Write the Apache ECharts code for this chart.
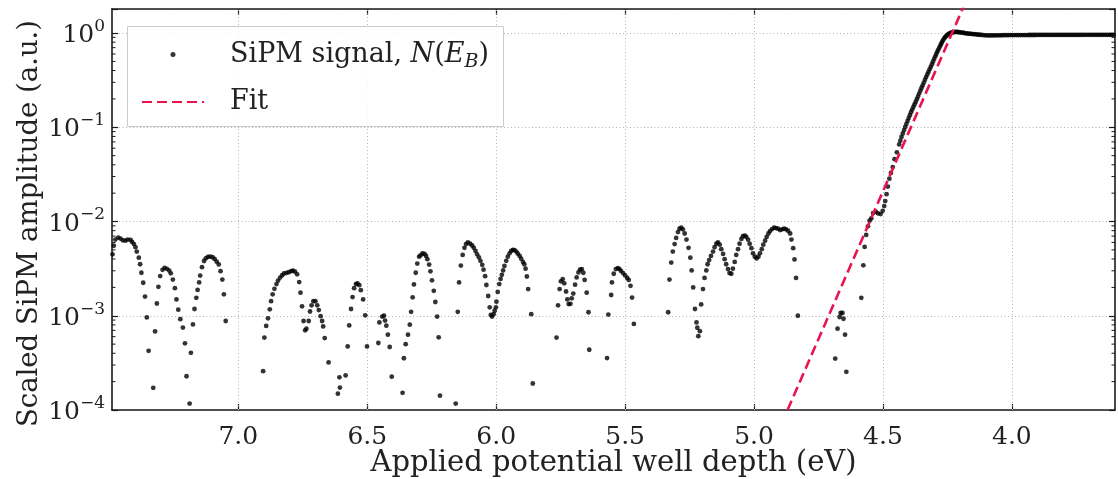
<!DOCTYPE html>
<html><head><meta charset="utf-8">
<script src="https://cdn.jsdelivr.net/npm/echarts@6/dist/echarts.min.js"></script>
<style>html,body{margin:0;padding:0;background:#fff}#c{width:1118px;height:479px}</style>
</head><body><div id="c"></div>
<script>
// ---- axis ranges and tick values ----
const xRange = [3.6, 7.49];
const yRange = [1e-4, 1.8];
const xTickValues = [7.0, 6.5, 6.0, 5.5, 5.0, 4.5, 4.0];
const yMinorTickValues = [2e-4,3e-4,4e-4,5e-4,6e-4,7e-4,8e-4,9e-4,
  2e-3,3e-3,4e-3,5e-3,6e-3,7e-3,8e-3,9e-3,
  2e-2,3e-2,4e-2,5e-2,6e-2,7e-2,8e-2,9e-2,
  0.2,0.3,0.4,0.5,0.6,0.7,0.8,0.9];

// ---- SiPM signal N(E_B): [well depth eV, scaled amplitude] ----
const signalOscillation = [
[7.488,4.49e-3],[7.483,5.53e-3],[7.477,6.43e-3],[7.466,6.76e-3],[7.457,6.59e-3],[7.448,6.32e-3],[7.438,6.27e-3],[7.429,6.43e-3],[7.418,6.37e-3],[7.412,6.07e-3],[7.405,5.77e-3],[7.399,5.35e-3],[7.394,4.80e-3],[7.386,4.13e-3],[7.381,3.52e-3],[7.376,2.86e-3],[7.369,2.24e-3],[7.362,1.60e-3],[7.355,9.6e-4],[7.348,4.25e-4],[7.330,1.72e-4],
[7.323,6.82e-4],[7.316,1.35e-3],[7.310,2.03e-3],[7.303,2.64e-3],[7.294,3.07e-3],[7.286,3.23e-3],[7.277,3.15e-3],[7.268,3.02e-3],[7.262,2.82e-3],[7.254,2.42e-3],[7.246,1.96e-3],[7.240,1.49e-3],[7.233,1.16e-3],[7.225,9.2e-4],[7.215,7.5e-4],[7.207,5.1e-4],[7.201,2.28e-4],[7.189,1.17e-4],
[7.184,4.04e-4],[7.176,8.1e-4],[7.170,1.18e-3],[7.163,1.55e-3],[7.158,1.88e-3],[7.152,2.26e-3],[7.148,2.67e-3],[7.141,3.28e-3],[7.133,3.81e-3],[7.126,4.07e-3],[7.118,4.22e-3],[7.109,4.25e-3],[7.100,4.18e-3],[7.092,4.01e-3],[7.084,3.75e-3],[7.076,3.51e-3],[7.069,2.97e-3],[7.062,2.42e-3],[7.056,1.69e-3],[7.049,8.8e-4],
[6.904,2.58e-4],[6.899,5.87e-4],[6.892,7.8e-4],[6.885,9.4e-4],[6.878,1.17e-3],[6.873,1.43e-3],[6.867,1.69e-3],[6.860,1.93e-3],[6.852,2.17e-3],[6.846,2.36e-3],[6.838,2.54e-3],[6.830,2.69e-3],[6.823,2.81e-3],[6.813,2.85e-3],[6.804,2.90e-3],[6.795,2.97e-3],[6.788,3.02e-3],[6.780,2.94e-3],[6.772,2.75e-3],[6.764,2.28e-3],[6.759,1.76e-3],[6.753,1.26e-3],[6.747,8.8e-4],[6.741,7.0e-4],[6.736,7.3e-4],[6.727,8.8e-4],[6.722,1.11e-3],[6.716,1.29e-3],[6.709,1.43e-3],[6.701,1.43e-3],[6.694,1.29e-3],[6.688,1.15e-3],[6.681,9.9e-4],[6.675,8.8e-4],[6.671,7.7e-4],[6.665,5.8e-4],[6.650,3.2e-4],
[6.614,1.49e-4],[6.608,2.22e-4],[6.606,1.73e-4],[6.584,2.33e-4],
[6.576,4.73e-4],[6.570,7.9e-4],[6.563,1.18e-3],[6.557,1.58e-3],[6.551,1.96e-3],[6.544,2.17e-3],[6.538,2.20e-3],[6.531,2.11e-3],[6.525,1.87e-3],[6.516,1.49e-3],[6.508,1.01e-3],[6.501,4.73e-4],
[6.457,5.14e-4],[6.453,8.5e-4],[6.442,9.8e-4],[6.435,1.0e-3],[6.431,8.9e-4],[6.426,7.85e-4],[6.420,6.3e-4],[6.413,4.66e-4],[6.405,2.26e-4],
[6.363,1.52e-4],[6.358,3.54e-4],[6.351,5.0e-4],[6.342,6.3e-4],[6.335,8.05e-4],[6.330,1.10e-3],[6.324,1.57e-3],[6.319,2.15e-3],[6.312,2.86e-3],[6.306,3.58e-3],[6.299,4.24e-3],[6.293,4.38e-3],[6.286,4.60e-3],[6.278,4.53e-3],[6.272,4.31e-3],[6.267,3.99e-3],[6.260,3.49e-3],[6.255,2.96e-3],[6.249,2.38e-3],[6.242,1.84e-3],[6.236,1.40e-3],[6.229,9.8e-4],[6.223,5.9e-4],[6.218,1.42e-4],
[6.157,1.17e-4],
[6.149,1.10e-3],[6.144,2.26e-3],[6.137,3.41e-3],[6.130,4.42e-3],[6.123,5.26e-3],[6.117,5.77e-3],[6.110,6.01e-3],[6.101,5.81e-3],[6.093,5.57e-3],[6.087,5.26e-3],[6.080,4.88e-3],[6.074,4.49e-3],[6.067,4.17e-3],[6.061,3.83e-3],[6.054,3.47e-3],[6.049,3.08e-3],[6.043,2.63e-3],[6.038,2.12e-3],[6.031,1.62e-3],[6.025,1.23e-3],[6.021,1.02e-3],[6.016,9.8e-4],[6.010,1.04e-3],[6.006,1.13e-3],[6.001,1.23e-3],[5.999,1.41e-3],[5.994,1.79e-3],[5.988,2.17e-3],[5.983,2.46e-3],[5.978,2.72e-3],[5.973,3.03e-3],[5.968,3.38e-3],[5.961,3.83e-3],[5.955,4.24e-3],[5.948,4.60e-3],[5.942,4.88e-3],[5.935,5.00e-3],[5.929,4.97e-3],[5.922,4.80e-3],[5.916,4.56e-3],[5.909,4.31e-3],[5.903,4.03e-3],[5.896,3.73e-3],[5.891,3.52e-3],[5.886,3.16e-3],[5.881,2.61e-3],[5.876,1.92e-3],[5.864,1.04e-3],[5.858,1.91e-4],
[5.766,5.87e-4],[5.760,1.29e-3],[5.754,1.92e-3],[5.749,2.32e-3],[5.742,2.44e-3],[5.736,2.21e-3],[5.729,1.81e-3],[5.724,1.49e-3],[5.719,1.33e-3],[5.712,1.34e-3],[5.707,1.53e-3],[5.701,1.72e-3],[5.694,2.14e-3],[5.688,2.55e-3],[5.681,2.88e-3],[5.675,3.08e-3],[5.668,3.13e-3],[5.662,2.86e-3],[5.657,2.40e-3],[5.649,1.76e-3],[5.642,1.09e-3],[5.639,4.36e-4],
[5.570,3.56e-4],[5.565,1.03e-3],[5.554,1.66e-3],[5.551,2.26e-3],[5.544,2.79e-3],[5.536,3.13e-3],[5.528,3.21e-3],[5.522,3.13e-3],[5.516,2.99e-3],[5.508,2.84e-3],[5.500,2.68e-3],[5.492,2.52e-3],[5.486,2.40e-3],[5.479,2.08e-3],[5.473,1.56e-3],[5.466,8.2e-4],
[5.333,1.09e-3],[5.328,2.42e-3],[5.321,3.67e-3],[5.315,4.80e-3],[5.308,5.77e-3],[5.302,6.70e-3],[5.295,7.73e-3],[5.289,8.39e-3],[5.282,8.61e-3],[5.276,8.26e-3],[5.269,7.46e-3],[5.262,6.43e-3],[5.254,5.26e-3],[5.247,4.13e-3],[5.242,3.03e-3],[5.236,2.00e-3],[5.229,1.18e-3],[5.223,8.5e-4],[5.220,7.46e-4],[5.216,6.07e-4],[5.210,6.87e-4],[5.205,1.32e-3],[5.198,1.92e-3],[5.192,2.52e-3],[5.185,3.03e-3],[5.180,3.52e-3],[5.174,3.90e-3],[5.167,4.31e-3],[5.159,4.80e-3],[5.153,5.35e-3],[5.146,5.81e-3],[5.140,6.01e-3],[5.133,5.68e-3],[5.127,5.09e-3],[5.120,4.53e-3],[5.114,3.99e-3],[5.108,3.52e-3],[5.101,3.13e-3],[5.095,2.84e-3],[5.088,2.79e-3],[5.082,3.16e-3],[5.075,3.73e-3],[5.069,4.42e-3],[5.062,5.09e-3],[5.056,5.81e-3],[5.049,6.53e-3],[5.043,6.98e-3],[5.036,7.10e-3],[5.030,6.87e-3],[5.023,6.43e-3],[5.017,5.81e-3],[5.010,5.21e-3],[5.004,4.60e-3],[4.997,4.24e-3],[4.990,4.06e-3],[4.983,4.24e-3],[4.977,4.60e-3],[4.970,5.09e-3],[4.964,5.68e-3],[4.957,6.27e-3],[4.951,6.87e-3],[4.944,7.46e-3],[4.938,7.92e-3],[4.930,8.32e-3],[4.922,8.61e-3],[4.915,8.53e-3],[4.907,8.39e-3],[4.899,8.11e-3],[4.891,8.26e-3],[4.883,8.39e-3],[4.876,8.26e-3],[4.868,7.98e-3],[4.860,7.46e-3],[4.855,6.43e-3],[4.848,5.21e-3],[4.843,3.96e-3],[4.837,2.52e-3],[4.830,1.0e-3],
[4.685,3.51e-4],[4.676,7.3e-4],[4.668,9.7e-4],[4.664,1.07e-3],[4.657,1.07e-3],[4.653,9.3e-4],[4.647,6.3e-4],[4.642,2.54e-4]
];
const signalRise = [
[4.584,1.55e-3],[4.576,3.43e-3],[4.571,5.38e-3],[4.565,7.21e-3],[4.558,8.89e-3],[4.552,1.02e-2],[4.545,1.08e-2],[4.538,1.23e-2],[4.528,1.27e-2],[4.519,1.22e-2],[4.509,1.20e-2],[4.501,1.30e-2],[4.495,1.46e-2],[4.491,1.65e-2],[4.486,1.95e-2],[4.481,2.35e-2],[4.475,2.85e-2],[4.469,3.28e-2],[4.462,3.78e-2],[4.455,4.59e-2],[4.446,5.43e-2],[4.437,6.58e-2],
[4.4325,7.21e-2],[4.428,7.91e-2],[4.423,8.59e-2],[4.418,9.35e-2],[4.4135,0.1009],[4.409,0.1086],[4.4045,0.1167],[4.400,0.1253],[4.3955,0.1346],[4.391,0.1445],[4.3865,0.1542],[4.382,0.1641],[4.3775,0.1746],[4.373,0.1858],[4.3685,0.1986],[4.364,0.2123],[4.3595,0.2280],[4.355,0.2449],[4.3505,0.2612],[4.346,0.2780],[4.3415,0.2985],[4.337,0.3199],[4.3325,0.3412],[4.328,0.3631],[4.3235,0.3873],[4.319,0.4121],[4.3145,0.4385],[4.310,0.4667],[4.3055,0.4989],[4.301,0.5333],[4.297,0.5662],[4.293,0.5998],[4.289,0.6339],[4.285,0.6683],[4.281,0.7047],[4.277,0.7396],[4.2735,0.7745],[4.270,0.8110],[4.266,0.8472],[4.262,0.8810],[4.258,0.9099],[4.254,0.9354],[4.250,0.9572],[4.246,0.9750],[4.2425,0.9886],[4.239,1.000],[4.235,1.009],[4.231,1.016],[4.227,1.021],[4.222,1.026],
[4.216,1.027],[4.211,1.026],[4.206,1.022],[4.201,1.016],[4.195,1.012],[4.189,1.008],[4.183,1.000],[4.177,0.992],[4.171,0.988],[4.164,0.984],[4.158,0.979],[4.151,0.975],[4.145,0.972],[4.138,0.968],[4.132,0.964],[4.125,0.960]
];
const signalPlateau = [
[4.118,0.955],[4.110,0.950],[4.102,0.946],[4.094,0.944],[4.086,0.943],[4.078,0.943],[4.070,0.944],[4.062,0.945],[4.054,0.946],[4.046,0.947],[4.038,0.948],[4.030,0.949],[4.022,0.950],[4.014,0.950],[4.006,0.951],[3.998,0.951],[3.990,0.952],[3.982,0.952],[3.974,0.952],[3.966,0.953],[3.958,0.953],[3.950,0.953],[3.942,0.953],[3.934,0.954],[3.926,0.954],[3.918,0.954],[3.910,0.954],[3.902,0.955],[3.894,0.955],[3.886,0.955],[3.878,0.955],[3.870,0.955],[3.862,0.955],[3.854,0.955],[3.846,0.955],[3.838,0.956],[3.830,0.956],[3.822,0.956],[3.814,0.956],[3.806,0.956],[3.798,0.956],[3.790,0.956],[3.782,0.956],[3.774,0.956],[3.766,0.956],[3.758,0.956],[3.750,0.956],[3.742,0.956],[3.734,0.956],[3.726,0.957],[3.718,0.957],[3.710,0.957],[3.702,0.957],[3.694,0.957],[3.686,0.957],[3.678,0.957],[3.670,0.957],[3.662,0.957],[3.654,0.957],[3.646,0.957],[3.638,0.957],[3.630,0.957],[3.622,0.957],[3.614,0.957],[3.606,0.957]
];
// ---- exponential fit (straight on log scale): endpoints ----
const fitLine = [[4.870, 1e-4], [4.150, 3.27]];

// ---- styling ----
const FONT = 'DejaVu Serif';
const INK = '#1a1a1a';
const GRIDC = '#b3b3b3';
const FITC = '#e8134f';

function yLabel(v) {
  const lg = Math.log10(v);
  const e = Math.round(lg);
  if (Math.abs(lg - e) > 1e-6) return '';
  const s = e < 0 ? '\u2212' + (-e) : String(e);
  return '{b|10}{s|' + s + '}';
}

const chart = echarts.init(document.getElementById('c'), null, {renderer: 'canvas'});
const axisLineStyle = {color: INK, width: 1.6};
chart.setOption({
  animation: false,
  backgroundColor: '#fff',
  textStyle: {fontFamily: FONT},
  grid: {left: 112, top: 9, width: 1003, height: 401, containLabel: false, outerBoundsMode: 'none'},
  legend: {
    data: ['SiPM signal', {name: 'Fit', itemStyle: {opacity: 0}}],
    orient: 'vertical', left: 136, top: 36, padding: 5,
    itemWidth: 62, itemHeight: 5, itemGap: 17,
    z: 20, selectedMode: false,
    formatter: function (name) {
      return name === 'Fit' ? '{r0|Fit}' : '{r0|SiPM signal, }{i|N}{r|(}{i|E}{sub|B}{r|)}';
    },
    textStyle: {
      color: '#222',
      rich: {
        r0: {fontFamily: FONT, fontSize: 27, lineHeight: 34, color: '#222', padding: [0, 0, 0, 21]},
        r: {fontFamily: FONT, fontSize: 27, lineHeight: 34, color: '#222'},
        i: {fontFamily: FONT, fontSize: 27, fontStyle: 'italic', lineHeight: 34, color: '#222'},
        sub: {fontFamily: FONT, fontSize: 19, fontStyle: 'italic', lineHeight: 22, verticalAlign: 'bottom', color: '#222'}
      }
    }
  },
  graphic: [{
    type: 'rect', z: 10,
    shape: {x: 127.5, y: 26.5, width: 376, height: 100},
    style: {fill: 'rgba(255,255,255,0.85)', stroke: '#cccccc', lineWidth: 1}
  }],
  xAxis: [{
    type: 'value', min: xRange[0], max: xRange[1], inverse: true, position: 'bottom',
    axisLine: {show: true, onZero: false, lineStyle: axisLineStyle},
    axisTick: {show: true, inside: true, length: 6, customValues: xTickValues, lineStyle: {color: INK, width: 1.2}},
    axisLabel: {show: true, customValues: xTickValues, margin: 15, fontSize: 25, fontFamily: FONT, color: '#222',
      formatter: v => v.toFixed(1)},
    splitLine: {show: false},
    name: 'Applied potential well depth (eV)', nameLocation: 'middle', nameGap: 39, nameMoveOverlap: false,
    nameTextStyle: {fontSize: 29, fontFamily: FONT, color: '#222'}
  }, {
    type: 'value', min: xRange[0], max: xRange[1], inverse: true, position: 'top',
    axisLine: {show: true, onZero: false, lineStyle: axisLineStyle},
    axisTick: {show: true, inside: true, length: 6, customValues: xTickValues, lineStyle: {color: INK, width: 1.2}},
    axisLabel: {show: false, customValues: xTickValues},
    splitLine: {show: false}
  }],
  yAxis: [{
    type: 'log', logBase: 10, min: yRange[0], max: yRange[1], position: 'left',
    axisLine: {show: true, lineStyle: axisLineStyle},
    axisTick: {show: true, inside: true, length: 6, lineStyle: {color: INK, width: 1.2}},
    minorTick: {show: false},
    axisLabel: {show: true, margin: 7, formatter: yLabel, color: '#222',
      rich: {
        b: {fontFamily: FONT, fontSize: 25, lineHeight: 30, verticalAlign: 'bottom', color: '#222'},
        s: {fontFamily: FONT, fontSize: 17, lineHeight: 18, verticalAlign: 'top', color: '#222'}
      }},
    splitLine: {show: true, lineStyle: {color: GRIDC, type: [1, 2.5], width: 1}},
    name: 'Scaled SiPM amplitude (a.u.)', nameLocation: 'middle', nameGap: 68, nameRotate: 90, nameMoveOverlap: false,
    nameTextStyle: {fontSize: 27.5, fontFamily: FONT, color: '#222', padding: [0, 28, 0, 0]}
  }, {
    type: 'log', logBase: 10, min: yRange[0], max: yRange[1], position: 'right',
    axisLine: {show: true, lineStyle: axisLineStyle},
    axisTick: {show: true, inside: true, length: 6, lineStyle: {color: INK, width: 1.2}},
    axisLabel: {show: false},
    splitLine: {show: false}
  }],
  series: [{
    type: 'custom', name: 'minorTicks', xAxisIndex: 0, yAxisIndex: 0, silent: true, clip: false, z: 6,
    data: yMinorTickValues.map(v => [xRange[0], v]),
    renderItem: function (params, api) {
      const v = api.value(1);
      const pl = api.coord([xRange[1], v]);
      const pr = api.coord([xRange[0], v]);
      return {type: 'group', children: [
        {type: 'line', shape: {x1: pl[0], y1: pl[1], x2: pl[0] + 3.5, y2: pl[1]}, style: {stroke: INK, lineWidth: 1}},
        {type: 'line', shape: {x1: pr[0] - 3.5, y1: pr[1], x2: pr[0], y2: pr[1]}, style: {stroke: INK, lineWidth: 1}}
      ]};
    }
  }, {
    type: 'scatter', name: 'SiPM signal', xAxisIndex: 0, yAxisIndex: 0,
    data: signalOscillation.concat(signalRise, signalPlateau),
    symbol: 'circle', symbolSize: 4.8, itemStyle: {color: '#000'}, z: 2, silent: true,
    markLine: {
      silent: true, z: 1, symbol: ['none', 'none'], label: {show: false},
      lineStyle: {color: GRIDC, type: [1, 2.5], width: 1},
      emphasis: {disabled: true},
      data: xTickValues.map(v => ({xAxis: v}))
    }
  }, {
    type: 'line', name: 'Fit', xAxisIndex: 0, yAxisIndex: 0,
    data: fitLine, symbol: 'none', showSymbol: false, clip: true, z: 3, silent: true,
    lineStyle: {color: FITC, width: 2.6, type: [10, 5]},
    itemStyle: {color: FITC}
  }]
});
</script>
</body></html>
